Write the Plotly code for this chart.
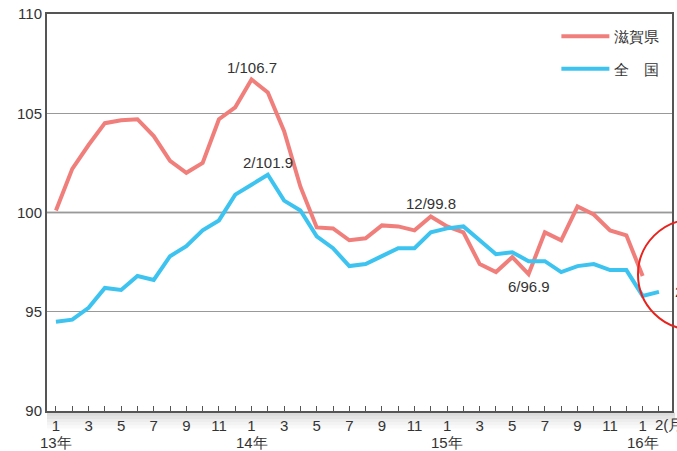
import plotly.graph_objects as go

months = list(range(38))  # 13年1月 .. 16年2月
shiga = [100.1, 102.2, 103.4, 104.5, 104.65, 104.7, 103.85, 102.6, 102.0, 102.5,
         104.7, 105.3, 106.7, 106.05, 104.1, 101.3, 99.25, 99.2, 98.6, 98.7,
         99.35, 99.3, 99.1, 99.8, 99.3, 99.0, 97.4, 97.0, 97.75, 96.9,
         99.0, 98.6, 100.3, 99.9, 99.1, 98.85, 96.8]
zenkoku = [94.5, 94.6, 95.2, 96.2, 96.1, 96.8, 96.6, 97.8, 98.3, 99.1,
           99.6, 100.9, 101.4, 101.9, 100.6, 100.1, 98.8, 98.2, 97.3, 97.4,
           97.8, 98.2, 98.2, 99.0, 99.2, 99.3, 98.6, 97.9, 98.0, 97.55,
           97.55, 97.0, 97.3, 97.4, 97.1, 97.1, 95.8, 96.0]
tick_text = ["1", "", "3", "", "5", "", "7", "", "9", "", "11", "",
             "1", "", "3", "", "5", "", "7", "", "9", "", "11", "",
             "1", "", "3", "", "5", "", "7", "", "9", "", "11", "",
             "1", ""]
year_pos = [0, 12, 24, 36]
year_text = ["13年", "14年", "15年", "16年"]
labels = [(12, 106.7, "1/106.7"), (13, 101.9, "2/101.9"), (23, 99.8, "12/99.8")]
label_below = [(29, 96.9, "6/96.9")]

RED = "#F07F7C"
BLUE = "#3DC3F0"
TXT = "#333333"
FONT = "Liberation Sans, Arial, sans-serif"

fig = go.Figure()
fig.add_trace(go.Scatter(x=months[:len(shiga)], y=shiga, mode="lines", name="滋賀県",
                         line=dict(color=RED, width=4), legendgroup="a"))
fig.add_trace(go.Scatter(x=months[:len(zenkoku)], y=zenkoku, mode="lines", name="全　国",
                         line=dict(color=BLUE, width=4), legendgroup="b"))

ann = []
for x, y, t in labels:
    ann.append(dict(x=x, y=y, text=t, showarrow=False, yanchor="bottom", yshift=2,
                    font=dict(size=15, color=TXT, family=FONT)))
for x, y, t in label_below:
    ann.append(dict(x=x, y=y, text=t, showarrow=False, yanchor="top", yshift=-2,
                    font=dict(size=15, color=TXT, family=FONT)))
for x, t in zip(year_pos, year_text):
    ann.append(dict(x=x, y=0, yref="paper", text=t, showarrow=False, yanchor="top",
                    yshift=-21, font=dict(size=15, color=TXT, family=FONT)))
ann.append(dict(x=37, y=0, yref="paper", text="2(月)", showarrow=False, xanchor="left",
                xshift=-6, yanchor="top", yshift=-3, font=dict(size=15, color=TXT, family=FONT)))
ann.append(dict(x=1.0, y=96.0, xref="paper", text="2/96.0", showarrow=False, xanchor="left",
                xshift=1, font=dict(size=15, color=TXT, family=FONT)))

shapes = [
    dict(type="line", xref="paper", x0=0, x1=1, y0=100, y1=100,
         line=dict(color="#555555", width=1.5), layer="below"),
    dict(type="circle", xref="paper", x0=0.9456, x1=1.1216, y0=94.1, y1=99.65,
         line=dict(color="#E8231E", width=2)),
]
# soft shadow below the x axis
for i, op in enumerate([0.22, 0.16, 0.11, 0.07, 0.04]):
    shapes.append(dict(type="rect", xref="paper", yref="paper", x0=0, x1=1.005,
                       y0=-0.004 - i * 0.008, y1=-0.004 - (i + 1) * 0.008,
                       fillcolor=f"rgba(90,90,90,{op})", line=dict(width=0), layer="below"))

fig.update_layout(
    width=677, height=451,
    margin=dict(l=47, r=5, t=14, b=40),
    paper_bgcolor="white", plot_bgcolor="white",
    font=dict(family=FONT, size=15, color=TXT),
    showlegend=True,
    legend=dict(x=0.815, y=0.985, xanchor="left", yanchor="top",
                font=dict(size=15, color=TXT, family=FONT),
                tracegroupgap=10, itemwidth=48, bgcolor="rgba(0,0,0,0)"),
    annotations=ann, shapes=shapes,
)
fig.update_xaxes(range=[-0.55, 37.8], tickvals=months, ticktext=tick_text,
                 ticks="inside", ticklen=5, tickcolor="#555555", showgrid=False,
                 showline=True, linecolor="#555555", linewidth=2, mirror=True,
                 tickfont=dict(size=15, color=TXT), zeroline=False, automargin=False)
fig.update_yaxes(range=[90, 110], dtick=5, showgrid=True, gridcolor="#999999", gridwidth=1,
                 showline=True, linecolor="#555555", linewidth=2, mirror=True,
                 ticks="", tickfont=dict(size=15, color=TXT), zeroline=False, automargin=False)

fig.write_html("out.html")
